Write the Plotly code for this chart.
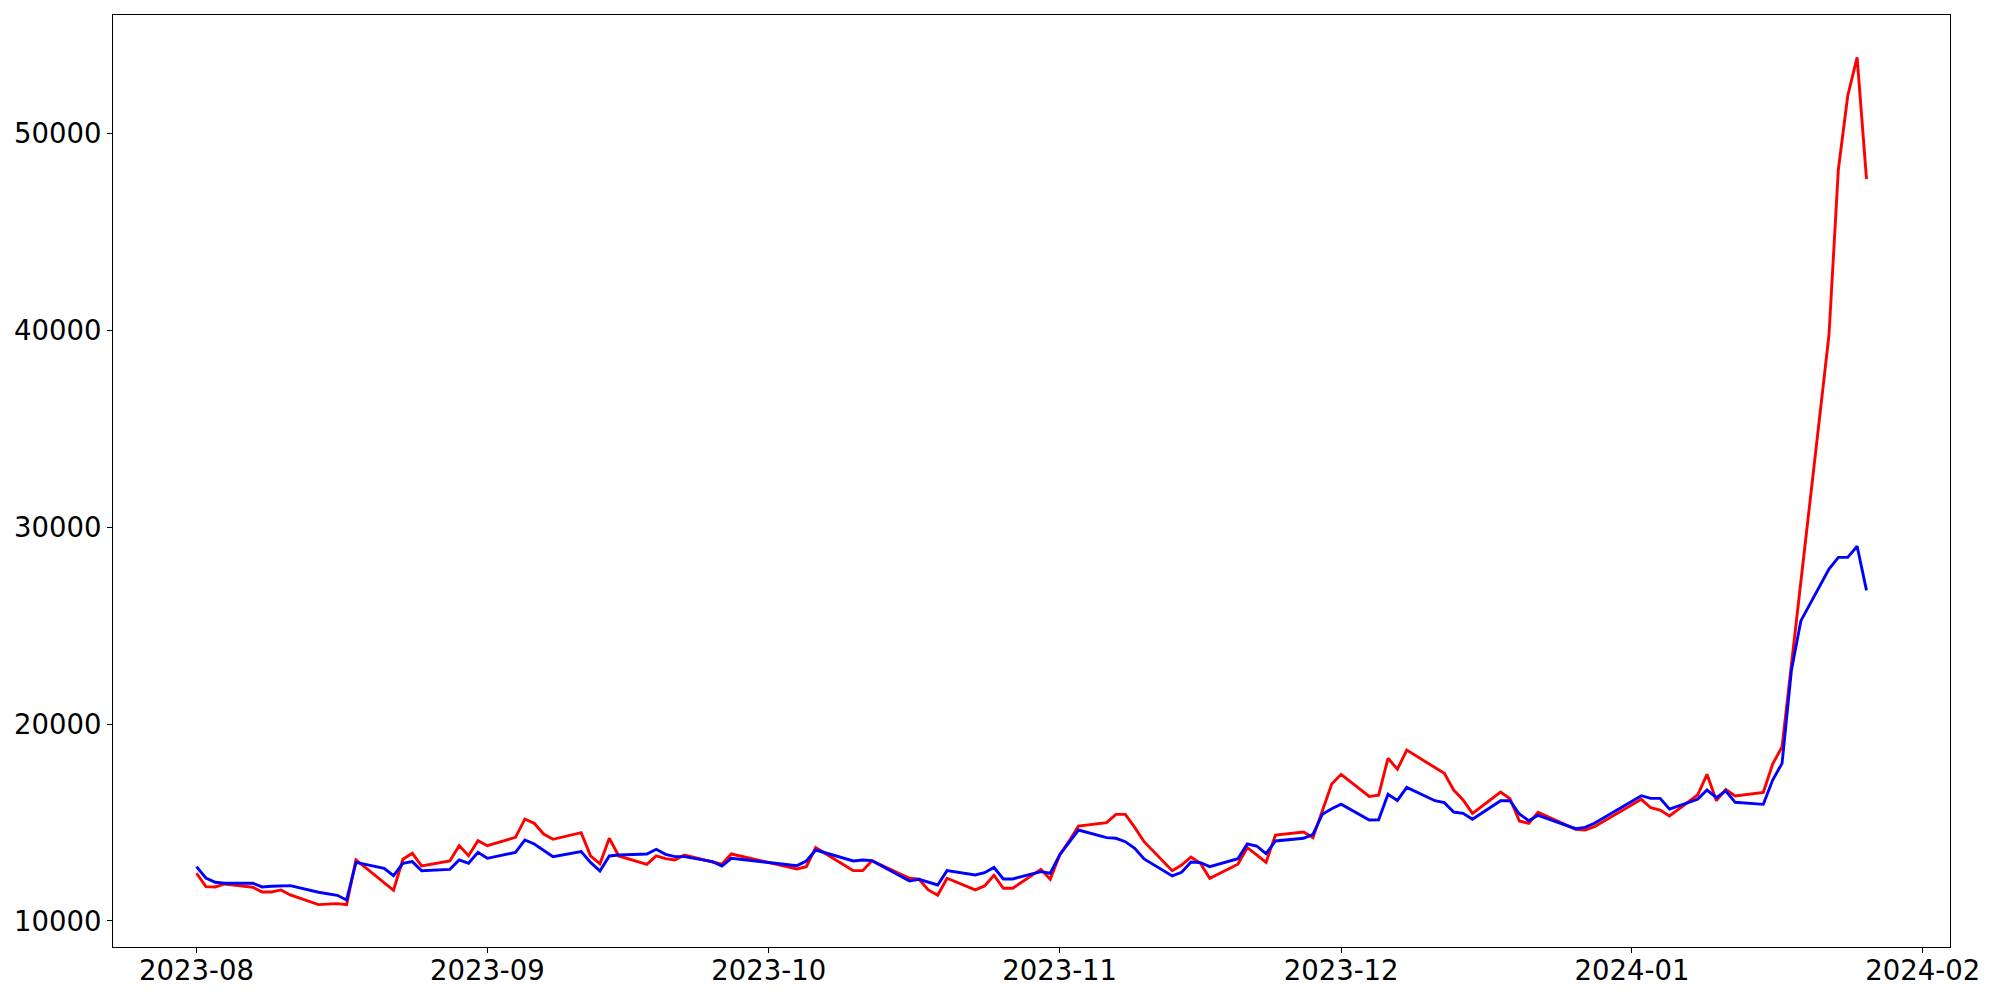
import plotly.graph_objects as go
import pandas as pd

dates = [
    "2023-08-01", "2023-08-02", "2023-08-03", "2023-08-04",
    "2023-08-07", "2023-08-08", "2023-08-09", "2023-08-10", "2023-08-11",
    "2023-08-14", "2023-08-16", "2023-08-17", "2023-08-18",
    "2023-08-21", "2023-08-22", "2023-08-23", "2023-08-24", "2023-08-25",
    "2023-08-28", "2023-08-29", "2023-08-30", "2023-08-31", "2023-09-01",
    "2023-09-04", "2023-09-05", "2023-09-06", "2023-09-07", "2023-09-08",
    "2023-09-11", "2023-09-12", "2023-09-13", "2023-09-14", "2023-09-15",
    "2023-09-18", "2023-09-19", "2023-09-20", "2023-09-21", "2023-09-22",
    "2023-09-25", "2023-09-26", "2023-09-27",
    "2023-10-04", "2023-10-05", "2023-10-06",
    "2023-10-10", "2023-10-11", "2023-10-12", "2023-10-13",
    "2023-10-16", "2023-10-17", "2023-10-18", "2023-10-19", "2023-10-20",
    "2023-10-23", "2023-10-24", "2023-10-25", "2023-10-26", "2023-10-27",
    "2023-10-30", "2023-10-31", "2023-11-01", "2023-11-02", "2023-11-03",
    "2023-11-06", "2023-11-07", "2023-11-08", "2023-11-09", "2023-11-10",
    "2023-11-13", "2023-11-14", "2023-11-15", "2023-11-16", "2023-11-17",
    "2023-11-20", "2023-11-21", "2023-11-22", "2023-11-23", "2023-11-24",
    "2023-11-27", "2023-11-28", "2023-11-29", "2023-11-30", "2023-12-01",
    "2023-12-04", "2023-12-05", "2023-12-06", "2023-12-07", "2023-12-08",
    "2023-12-11", "2023-12-12", "2023-12-13", "2023-12-14", "2023-12-15",
    "2023-12-18", "2023-12-19", "2023-12-20", "2023-12-21", "2023-12-22",
    "2023-12-26", "2023-12-27", "2023-12-28",
    "2024-01-02", "2024-01-03", "2024-01-04", "2024-01-05",
    "2024-01-08", "2024-01-09", "2024-01-10", "2024-01-11", "2024-01-12",
    "2024-01-15", "2024-01-16", "2024-01-17", "2024-01-18", "2024-01-19",
    "2024-01-22", "2024-01-23", "2024-01-24", "2024-01-25", "2024-01-26",
]

red_values = [
    12420, 11740, 11725, 11877,
    11710, 11471, 11471, 11573, 11319,
    10827, 10878, 10827, 13095,
    11960, 11557, 13130, 13434, 12790,
    13044, 13821, 13313, 14074, 13821,
    14247, 15175, 14957, 14414, 14145,
    14480, 13305, 12900, 14196, 13298,
    12877, 13298, 13160, 13095, 13349,
    13011, 12877, 13400,
    12637, 12755, 13720,
    12552, 12552, 13061, 12840,
    12167, 12116, 11573, 11302, 12167,
    11573, 11776, 12319, 11659, 11659,
    12620, 12116, 13349, 14050, 14820,
    14988, 15413, 15413, 14752, 14024,
    12552, 12841, 13247, 12928, 12167,
    12877, 13720, 13349, 12973, 14364,
    14516, 14228, 15550, 16951, 17443,
    16320, 16390, 18260, 17705, 18676,
    17788, 17494, 16647, 16140, 15464,
    16545, 16206, 15074, 14957, 15515,
    14653, 14617, 14786,
    16174, 15749, 15632, 15328,
    16393, 17443, 16105, 16682, 16343,
    16530, 17966, 18844, 22990, 27400,
    39744, 48160, 51907, 53854, 47670,
]

blue_values = [
    12755, 12182, 11963, 11913,
    11913, 11725, 11760, 11776, 11793,
    11456, 11302, 11066, 12973,
    12670, 12299, 12928, 13011, 12552,
    12620, 13095, 12928, 13484, 13180,
    13484, 14110, 13907, 13602, 13263,
    13518, 12970, 12537, 13298, 13349,
    13400, 13638, 13383, 13263, 13263,
    13011, 12790, 13180,
    12806, 13044, 13602,
    13044, 13095, 13061, 12800,
    12030, 12116, 11963, 11827, 12552,
    12334, 12451, 12715, 12131, 12131,
    12502, 12420, 13349, 14000, 14617,
    14228, 14196, 14024, 13689, 13146,
    12283, 12471, 12994, 12958, 12755,
    13161, 13907, 13805, 13415, 14059,
    14196, 14399, 15420, 15700, 15930,
    15125, 15135, 16435, 16120, 16784,
    16105, 16004, 15531, 15464, 15160,
    16105, 16105, 15429, 15089, 15363,
    14683, 14754, 14957,
    16358, 16225, 16225, 15683,
    16174, 16647, 16256, 16612, 16023,
    15921, 17154, 18000, 22736, 25235,
    27870, 28464, 28464, 29027, 26785,
]

x_tick_vals = ["2023-08-01", "2023-09-01", "2023-10-01", "2023-11-01",
               "2023-12-01", "2024-01-01", "2024-02-01"]
x_tick_text = ["2023-08", "2023-09", "2023-10", "2023-11",
               "2023-12", "2024-01", "2024-02"]
y_tick_vals = [10000, 20000, 30000, 40000, 50000]

x = pd.to_datetime(dates)

# matplotlib-like 5% margins
xmin, xmax = x.min(), x.max()
xpad = (xmax - xmin) * 0.05
all_y = red_values + blue_values
ymin, ymax = min(all_y), max(all_y)
ypad = (ymax - ymin) * 0.05

fig = go.Figure()
fig.add_trace(go.Scatter(x=x, y=red_values, mode="lines",
                         line=dict(color="#ff0000", width=2.9), showlegend=False))
fig.add_trace(go.Scatter(x=x, y=blue_values, mode="lines",
                         line=dict(color="#0000ff", width=2.9), showlegend=False))

font = dict(family="DejaVu Sans", size=27.5, color="black")
axis_common = dict(showline=True, mirror=True, linecolor="black", linewidth=1.1,
                   ticks="outside", ticklen=5, tickwidth=1.1, tickcolor="black",
                   showgrid=False, zeroline=False, tickfont=font, automargin=False)

# page body has an 8px default margin; compensate so the plot box lands where the reference has it
fig.update_layout(
    width=1992, height=992,
    margin=dict(l=105, r=50, t=7, b=53, autoexpand=False),
    paper_bgcolor="white", plot_bgcolor="white",
    font=font,
    xaxis=dict(range=[xmin - xpad, xmax + xpad], tickvals=pd.to_datetime(x_tick_vals),
               ticktext=x_tick_text, ticklabelstandoff=-6, **axis_common),
    yaxis=dict(range=[ymin - ypad, ymax + ypad], tickvals=y_tick_vals,
               ticktext=[str(v) for v in y_tick_vals], **axis_common),
)

fig.write_html("out.html", config={"displayModeBar": False})
